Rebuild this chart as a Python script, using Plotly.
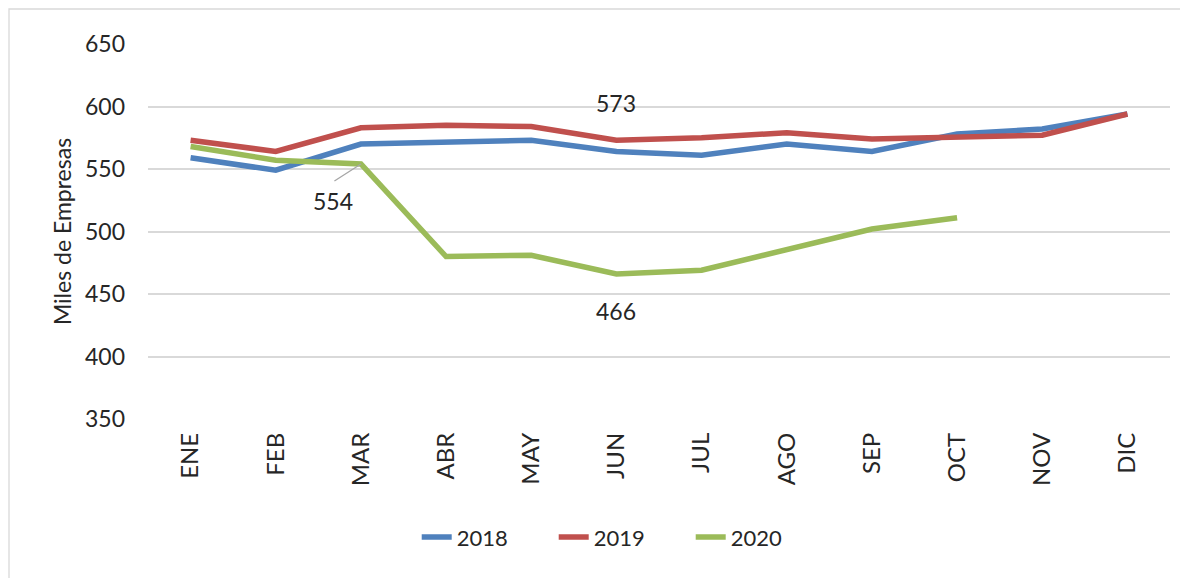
import plotly.graph_objects as go

months = ["ENE", "FEB", "MAR", "ABR", "MAY", "JUN", "JUL", "AGO", "SEP", "OCT", "NOV", "DIC"]
v2018 = [559, 549, 570, 571, 573, 564, 561, 570, 564, 578, 582, 594]
v2019 = [573, 564, 583, 585, 584, 573, 575, 579, 574, 575, 577, 594]
v2020 = [568, 557, 554, 480, 481, 466, 469, 485, 502, 511]
y_ticks = [350, 400, 450, 500, 550, 600, 650]

FONT = "Lato"
TXT = "#262626"

fig = go.Figure()
for name, vals, col in [("2018", v2018, "#4F81BD"), ("2019", v2019, "#C0504D"), ("2020", v2020, "#9BBB59")]:
    fig.add_trace(go.Scatter(x=months[:len(vals)], y=vals, name=name, mode="lines",
                             line=dict(color=col, width=5.5, shape="linear"),
                             hoverinfo="x+y+name"))

annotations = [
    dict(x=months[5], y=v2019[5], text=str(v2019[5]), showarrow=False, yshift=37),
    dict(x=months[5], y=v2020[5], text=str(v2020[5]), showarrow=False, yshift=-37),
    dict(x=months[2], y=v2020[2], text="", showarrow=True, arrowhead=0, arrowwidth=1.3,
         arrowcolor="#A6A6A6", ax=-28, ay=18, standoff=0),
    dict(x=months[2], y=v2020[2], text=str(v2020[2]), showarrow=False, xshift=-28, yshift=-37),
]
for a in annotations:
    a.update(xref="x", yref="y", font=dict(family=FONT, size=23, color=TXT))

fig.update_layout(
    width=1180, height=570,
    margin=dict(l=140, r=18, t=36, b=159),
    paper_bgcolor="white", plot_bgcolor="white",
    font=dict(family=FONT, size=23, color=TXT),
    showlegend=True,
    legend=dict(orientation="h", x=0.464, xanchor="center", y=-0.315, yanchor="middle",
                font=dict(family=FONT, size=22, color=TXT),
                entrywidth=92, entrywidthmode="pixels",
                bgcolor="rgba(0,0,0,0)"),
    annotations=annotations,
    shapes=[dict(type="rect", xref="paper", yref="paper",
                 x0=-139/1022, x1=1.2, y0=-0.6, y1=1 + 35/375,
                 line=dict(color="#D9D9D9", width=1.3), fillcolor="rgba(0,0,0,0)", layer="below")],
)
fig.update_xaxes(type="category", range=[-0.5, 11.5], tickangle=-90, showgrid=False, zeroline=False,
                 showline=False, ticks="", tickfont=dict(family=FONT, size=24, color=TXT),
                 ticklabelstandoff=8)
fig.update_yaxes(range=[350, 650], tickvals=y_ticks, showgrid=True, gridcolor="#D9D9D9", gridwidth=1.5,
                 zeroline=False, showline=False, ticks="", ticklabelstandoff=22,
                 tickfont=dict(family=FONT, size=23, color=TXT),
                 title=dict(text="Miles de Empresas", font=dict(family=FONT, size=23, color=TXT), standoff=6))

fig.write_html("out.html")
